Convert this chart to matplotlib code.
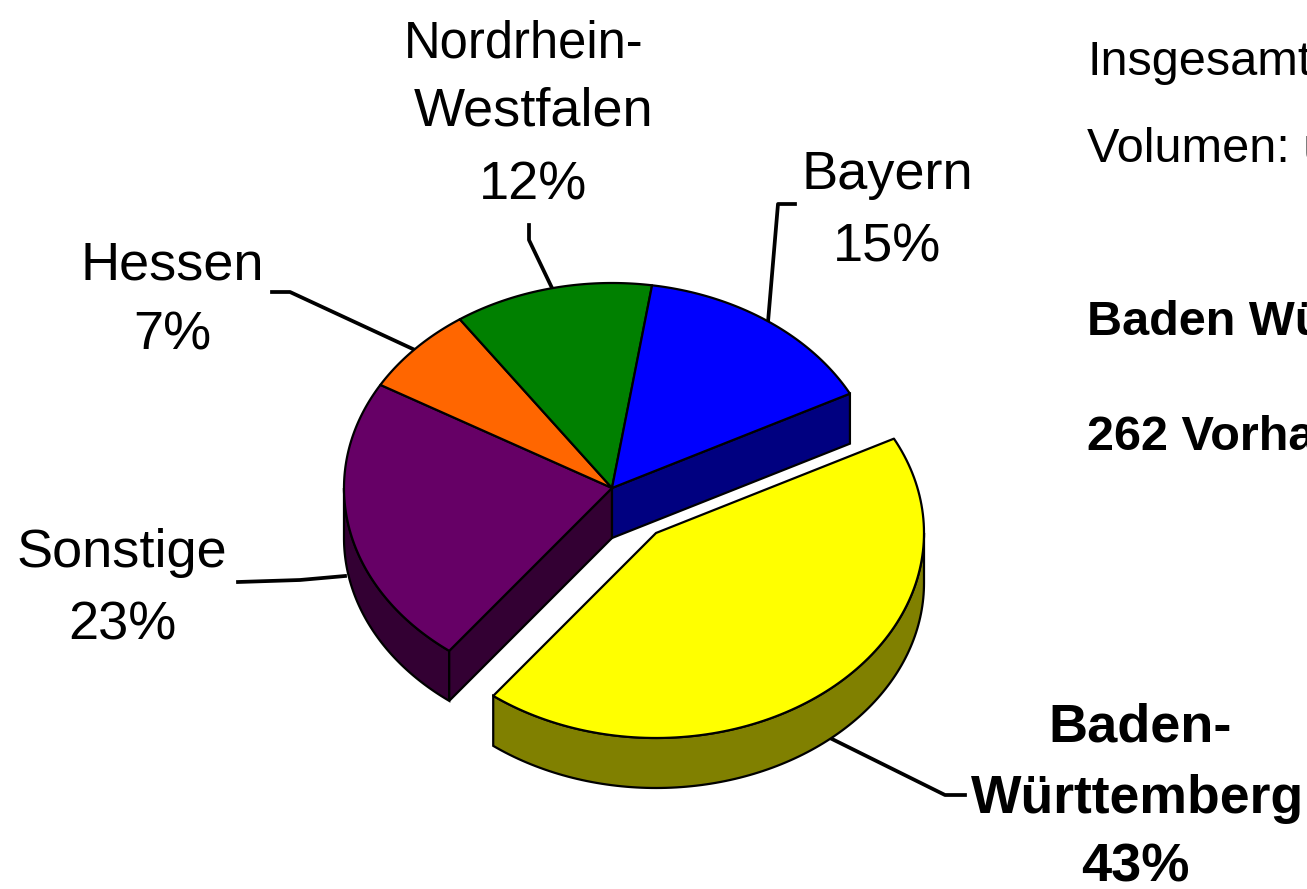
"""
Kreisdiagramm (3D-Optik) der Vorhaben nach Bundesland
"""
import numpy as np
import matplotlib
matplotlib.use('Agg')
import matplotlib.pyplot as plt
from matplotlib.patches import Polygon

# Daten, im Uhrzeigersinn ab dem rechten Rand von Baden-Wuerttemberg
regions = ['Baden-Württemberg', 'Sonstige', 'Hessen', 'Nordrhein-Westfalen', 'Bayern']
shares = [43, 23, 7, 12, 15]
explode = [True, False, False, False, False]
top_colors = ['#FFFF00', '#660066', '#FF6600', '#008000', '#0000FF']
side_colors = ['#808000', '#330033', '#803300', '#004000', '#000080']

side_notes = ['Insgesamt', 'Volumen: u']
bold_notes = ['Baden Wü', '262 Vorha']

# Geometrie in Pixeln
CX, CY = 612, 488
RX, RY = 268, 205
DEPTH = 50
START = 27.4
OFFSET = (44, 45)

plt.rcParams['font.family'] = ['Liberation Sans', 'DejaVu Sans']

fig = plt.figure(figsize=(13.07, 8.89), dpi=100)
ax = fig.add_axes([0, 0, 1, 1])
ax.set_xlim(0, 1307)
ax.set_ylim(889, 0)
ax.axis('off')


def rim(cx, cy, a0, a1, drop=0):
    """Punkte auf der Ellipse zwischen zwei Winkeln"""
    a = np.radians(np.linspace(a0, a1, 120))
    return np.column_stack([cx + RX * np.cos(a), cy - RY * np.sin(a) + drop])


def cut_face(cx, cy, ang, side):
    """Schnittflaeche von der Mitte bis zum Rand"""
    p = rim(cx, cy, ang, ang)[0]
    face = [(cx, cy), p, (p[0], p[1] + DEPTH), (cx, cy + DEPTH)]
    ax.add_patch(Polygon(face, closed=True, fc=side, ec='black', lw=1.6, zorder=2))


def draw_slice(i, a0):
    a1 = a0 - shares[i] * 3.6
    cx = CX + (OFFSET[0] if explode[i] else 0)
    cy = CY + (OFFSET[1] if explode[i] else 0)
    top, side = top_colors[i], side_colors[i]

    # Aussenwand: nur der vordere Teil der Ellipse ist sichtbar
    lo, hi = max(a1, -180), min(a0, 0)
    if lo < hi:
        upper = rim(cx, cy, hi, lo)
        lower = rim(cx, cy, lo, hi, DEPTH)
        ax.add_patch(Polygon(np.vstack([upper, lower]), closed=True,
                             fc=side, ec='black', lw=1.6, zorder=2))

    # die Nachbarn des herausgezogenen Stuecks zeigen ihre Schnittflaeche
    if explode[i - 1]:
        cut_face(cx, cy, a0, side)
    if explode[(i + 1) % len(shares)]:
        cut_face(cx, cy, a1, side)

    outline = np.vstack([[(cx, cy)], rim(cx, cy, a0, a1)])
    ax.add_patch(Polygon(outline, closed=True, fc=top, ec='black', lw=1.6,
                         joinstyle='round', zorder=3))
    return a1


angle = START
for i in range(len(shares)):
    angle = draw_slice(i, angle)

# Beschriftungen
leaders = [
    [(795, 204), (778, 204), (768, 322)],
    [(529, 225), (529, 240), (552, 288)],
    [(272, 292), (290, 292), (415, 350)],
    [(238, 582), (300, 580), (345, 576)],
    [(830, 738), (945, 795), (965, 795)],
]
for pts in leaders:
    xs, ys = zip(*pts)
    ax.plot(xs, ys, color='black', lw=2.7, zorder=1)

labels = [
    ('Nordrhein-', 524, 58, 'normal', 36.5), ('Westfalen', 534, 126, 'normal', 39), ('12%', 533, 199, 'normal', 39),
    ('Bayern', 887, 189, 'normal', 39), ('15%', 887, 261, 'normal', 39),
    ('Hessen', 172, 279, 'normal', 39), ('7%', 172, 349, 'normal', 39),
    ('Sonstige', 122, 567, 'normal', 39), ('23%', 122, 639, 'normal', 39),
    ('Baden-', 1140, 741, 'bold', 39), ('Württemberg', 1138, 813, 'bold', 38.5), ('43%', 1135, 881, 'bold', 39),
]
for txt, x, y, weight, size in labels:
    ax.text(x, y, txt, ha='center', va='baseline', fontsize=size, fontweight=weight)

for txt, y in zip(side_notes, [75, 162]):
    ax.text(1087, y, txt, ha='left', va='baseline', fontsize=35)
for txt, y in zip(bold_notes, [335, 450]):
    ax.text(1087, y, txt, ha='left', va='baseline', fontsize=35, fontweight='bold')

fig.savefig('out.png', dpi=100, facecolor='white')
plt.close(fig)
